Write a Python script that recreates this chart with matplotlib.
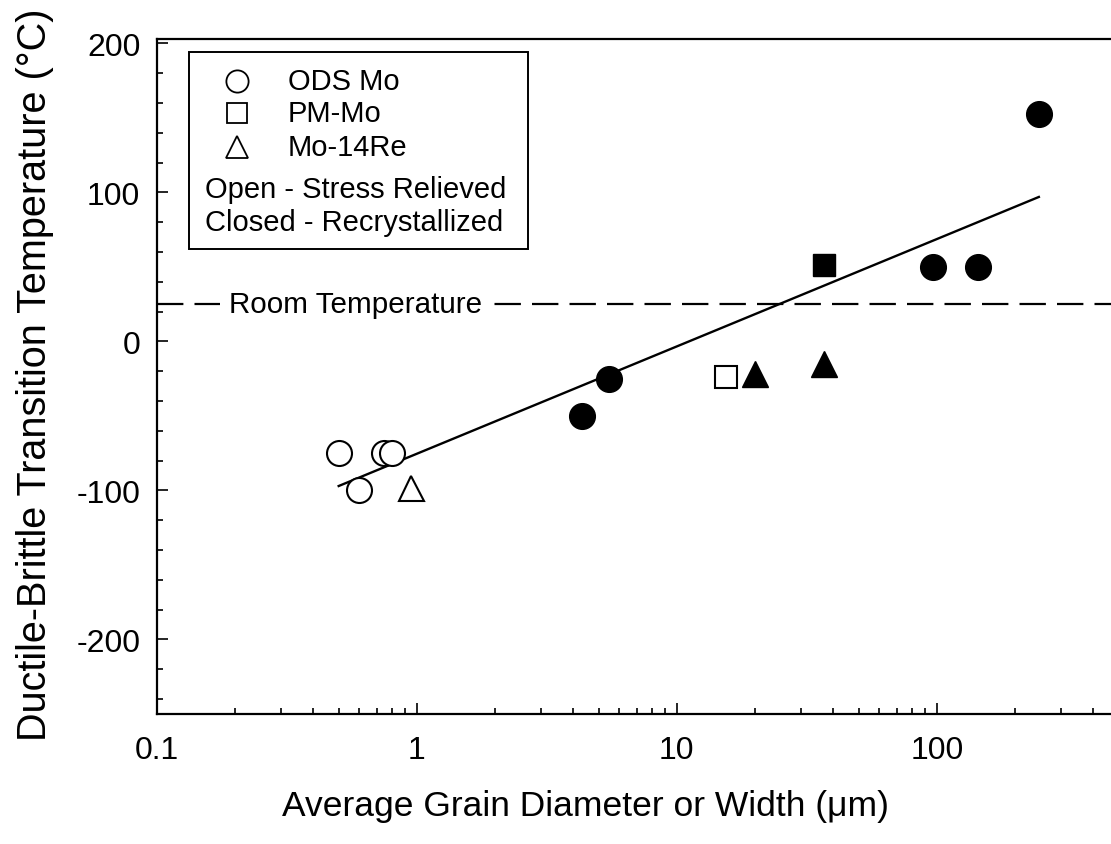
import matplotlib
matplotlib.use("Agg")
import matplotlib.pyplot as plt
from matplotlib.patches import Rectangle
from matplotlib.ticker import MultipleLocator, LogLocator, NullFormatter, FixedLocator

plt.rcParams['font.family'] = ['Liberation Sans', 'DejaVu Sans']
plt.rcParams['lines.scale_dashes'] = False
plt.rcParams['axes.unicode_minus'] = False

# grain size (um) vs DBTT (C)
ods_open_x = [0.50, 0.60, 0.75, 0.80]
ods_open_y = [-75, -100, -75, -75]
ods_closed_x = [4.3, 5.5, 97, 144, 247]
ods_closed_y = [-50, -25, 50, 50, 153]
pm_open_x = [15.4]
pm_open_y = [-24]
pm_closed_x = [36.7]
pm_closed_y = [51]
re_open_x = [0.95]
re_open_y = [-98]
re_closed_x = [20, 36.7]
re_closed_y = [-22, -15]

fit_x = [0.5, 247]
fit_y = [-97, 97]
room_temp = 25

x_ticks = [0.1, 1, 10, 100]
x_ticklabels = ['0.1', '1', '10', '100']
y_ticks = [-200, -100, 0, 100, 200]

fig = plt.figure(figsize=(11.11, 8.45), dpi=100)
ax = fig.add_axes([157 / 1111, 130 / 845, 954 / 1111, 675 / 845])

ax.set_xscale('log')
ax.set_xlim(0.1, 468)
ax.set_ylim(-250, 203)

# room temperature reference line
ax.axhline(room_temp, color='black', lw=1.6, dashes=(19, 8), zorder=1)
ax.text(0.190, room_temp, 'Room Temperature', fontsize=21.3, va='center', ha='left',
        bbox=dict(facecolor='white', edgecolor='none', pad=7), zorder=2)

ax.plot(fit_x, fit_y, color='black', lw=1.7, zorder=3)

ax.plot(ods_open_x, ods_open_y, 'o', ms=18, mfc='white', mec='black', mew=1.5, zorder=4)
ax.plot(ods_closed_x, ods_closed_y, 'o', ms=18.5, color='black', zorder=4)
ax.plot(pm_open_x, pm_open_y, 's', ms=16, mfc='white', mec='black', mew=1.5, zorder=4)
ax.plot(pm_closed_x, pm_closed_y, 's', ms=16.5, color='black', zorder=4)
ax.plot(re_open_x, re_open_y, '^', ms=18, mfc='white', mec='black', mew=1.5, zorder=4)
ax.plot(re_closed_x, re_closed_y, '^', ms=18.5, color='black', zorder=4)

# legend box drawn by hand
ax.add_patch(Rectangle((0.0335, 0.689), 0.3555, 0.292, transform=ax.transAxes,
                       facecolor='white', edgecolor='black', lw=1.4, zorder=5))
leg_rows = [('o', 'ODS Mo', 0.938), ('s', 'PM-Mo', 0.890), ('^', 'Mo-14Re', 0.840)]
for mk, lab, yy in leg_rows:
    ax.plot([0.0835], [yy], mk, ms=16 if mk != 's' else 15, mfc='white', mec='black',
            mew=1.3, transform=ax.transAxes, zorder=6, clip_on=False)
    ax.text(0.137, yy, lab, transform=ax.transAxes, fontsize=21, va='center', zorder=6)
ax.text(0.050, 0.778, 'Open - Stress Relieved', transform=ax.transAxes, fontsize=21,
        va='center', zorder=6)
ax.text(0.050, 0.729, 'Closed - Recrystallized', transform=ax.transAxes, fontsize=21,
        va='center', zorder=6)

# axes styling
ax.spines['right'].set_visible(False)
for s in ['left', 'bottom', 'top']:
    ax.spines[s].set_linewidth(1.6)

ax.xaxis.set_major_locator(FixedLocator(x_ticks))
ax.set_xticklabels(x_ticklabels)
ax.xaxis.set_minor_locator(LogLocator(base=10, subs=range(2, 10)))
ax.xaxis.set_minor_formatter(NullFormatter())
ax.set_yticks(y_ticks)
ax.yaxis.set_minor_locator(MultipleLocator(20))

ax.tick_params(which='both', direction='in', top=False, right=False, width=1.2)
ax.tick_params(which='major', length=8, labelsize=23)
ax.tick_params(which='minor', length=4.5)
ax.tick_params(axis='x', which='major', pad=15)
ax.tick_params(axis='y', which='major', pad=12)

ax.set_xlabel('Average Grain Diameter or Width (μm)', fontsize=25.5)
ax.set_ylabel('Ductile-Brittle Transition Temperature (°C)', fontsize=28.5)
ax.xaxis.set_label_coords((585 - 157) / 954, -(790 - 715) / 675)
ax.yaxis.set_label_coords(-(157 - 54) / 954, (715 - 375) / 675)

fig.savefig('out.png', dpi=100)
